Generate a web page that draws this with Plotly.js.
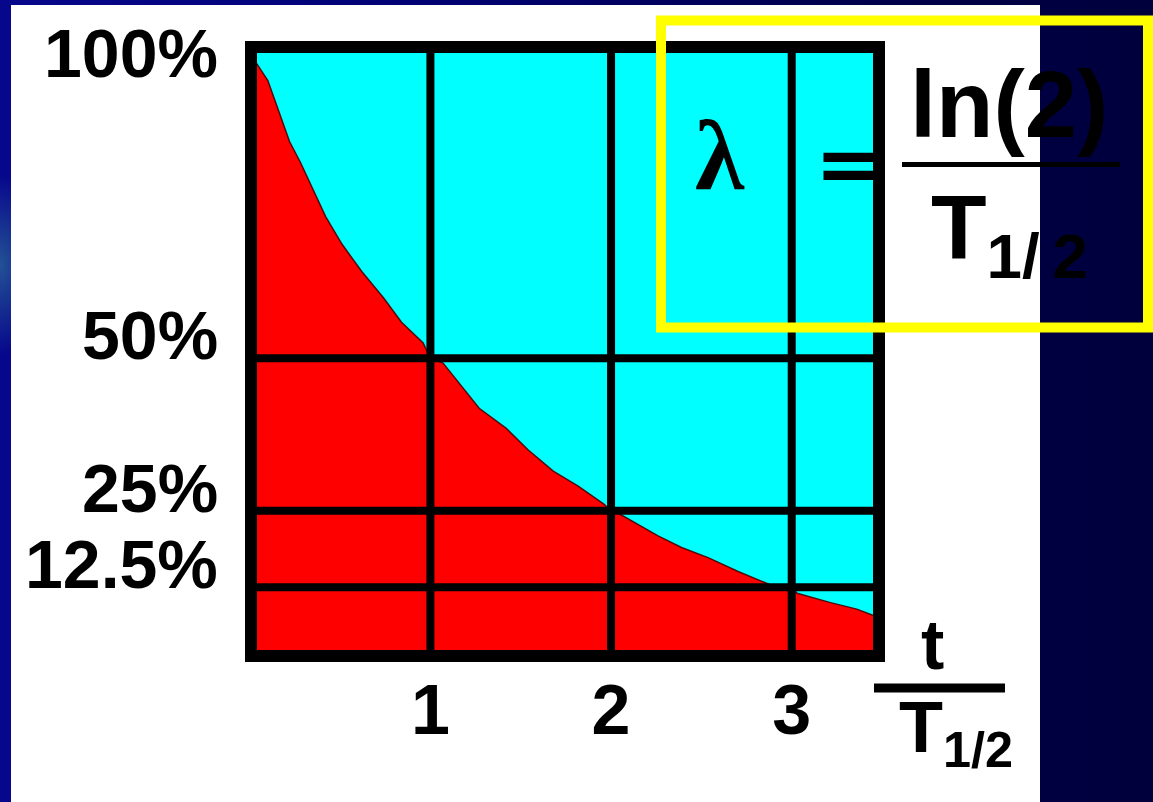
<!DOCTYPE html>
<html>
<head>
<meta charset="utf-8">
<script src="https://cdn.plot.ly/plotly-3.0.1.min.js"></script>
<style>
  html, body { margin: 0; padding: 0; }
  body {
    width: 1153px; height: 802px; overflow: hidden; position: relative;
    background:
      radial-gradient(ellipse 45px 90px at 0px 265px, rgba(40,95,150,0.85) 0%, rgba(40,95,150,0) 100%),
      linear-gradient(to right, #07078c 0%, #000070 40%, #00004a 75%, #00003c 100%);
  }
  #panel { position: absolute; left: 11px; top: 5px; width: 1029px; height: 797px; background: #ffffff; }
  #chart { position: absolute; left: 0; top: 0; width: 1153px; height: 802px; }
</style>
</head>
<body>
<div id="panel"></div>
<div id="chart"></div>
<script>
// Elapsed time in half-lives, and the fraction of nuclei still present (%)
const halfLives = [0, 0.10, 0.16, 0.22, 0.28, 0.36, 0.42, 0.51, 0.62, 0.74, 0.84, 0.96, 1.00,
                   1.07, 1.17, 1.27, 1.42, 1.54, 1.68, 1.82, 1.96, 2.00, 2.04, 2.15, 2.26,
                   2.39, 2.54, 2.70, 2.88, 3.00, 3.03, 3.21, 3.36, 3.45];
const remaining = [100, 95.5, 90.5, 85.5, 82.1, 77.1, 73.2, 68.7, 64.2, 59.9, 55.9, 52.5, 50,
                   49.2, 45.5, 41.8, 38.5, 35.0, 31.5, 29.0, 26.1, 25, 24.6, 22.8, 20.9,
                   19.0, 17.3, 15.1, 12.9, 12.5, 11.5, 10.0, 8.9, 7.9];

// Grid marks
const xTicks = [1, 2, 3];
const xTickText = ['1', '2', '3'];
const yTicks = [100, 50, 25, 12.5];
const yTickText = ['100%', '50%', '25%', '12.5%'];

// Plot area in page pixels
const M = { l: 257, r: 280, t: 53, b: 152 };
const W = 1153, H = 802;
const PW = W - M.l - M.r, PH = H - M.t - M.b;
const px = v => (v - M.l) / PW;          // page x -> paper x
const py = v => (H - M.b - v) / PH;      // page y -> paper y

const X_RANGE = [0.04, 3.45];
const Y_RANGE = [2.2, 100];

const SANS = 'Liberation Sans, Arial, sans-serif';
const SERIF = 'Liberation Serif, Times New Roman, serif';

const decay = {
  type: 'scatter', mode: 'lines',
  x: halfLives, y: remaining,
  fill: 'tozeroy', fillcolor: '#ff0000',
  line: { color: 'rgba(70,0,0,0.9)', width: 1.5 },
  hoverinfo: 'skip', showlegend: false
};

const shapes = [];
xTicks.forEach(v => shapes.push({
  type: 'line', xref: 'x', yref: 'paper', x0: v, x1: v, y0: 0, y1: 1,
  line: { color: '#000000', width: 8 }
}));
yTicks.filter(v => v < Y_RANGE[1]).forEach(v => shapes.push({
  type: 'line', xref: 'paper', yref: 'y', x0: 0, x1: 1, y0: v, y1: v,
  line: { color: '#000000', width: 8 }
}));
// fraction bar under t
shapes.push({ type: 'line', xref: 'paper', yref: 'paper',
  x0: px(874), x1: px(1005), y0: py(688), y1: py(688),
  line: { color: '#000000', width: 9 } });
// formula box
shapes.push({ type: 'rect', xref: 'paper', yref: 'paper',
  x0: px(661), x1: px(1148), y0: py(327.5), y1: py(20.5),
  line: { color: '#ffff00', width: 10 }, fillcolor: 'rgba(0,0,0,0)' });
// fraction bar of the formula
shapes.push({ type: 'line', xref: 'paper', yref: 'paper',
  x0: px(902), x1: px(1120), y0: py(164.5), y1: py(164.5),
  line: { color: '#000000', width: 5 } });

const annotations = [];
yTicks.forEach((v, i) => annotations.push({
  xref: 'paper', yref: 'y', x: 0, y: v, xanchor: 'right', yanchor: 'middle',
  xshift: -37, yshift: v >= Y_RANGE[1] ? 0 : 23,
  text: yTickText[i], showarrow: false,
  font: { family: SANS, size: 68, color: '#000000', weight: 700 }
}));
// axis label t / T1/2
annotations.push({
  xref: 'paper', yref: 'paper', x: px(932), y: py(604), xanchor: 'center', yanchor: 'top',
  text: 't', showarrow: false,
  font: { family: SANS, size: 70, color: '#000000', weight: 700 }
});
annotations.push({
  xref: 'paper', yref: 'paper', x: px(897), y: py(685), xanchor: 'left', yanchor: 'top',
  text: 'T<sub>1/2</sub>', showarrow: false,
  font: { family: SANS, size: 72, color: '#000000', weight: 700 }
});
// decay constant formula
annotations.push({
  xref: 'paper', yref: 'paper', x: px(720), y: py(98), xanchor: 'center', yanchor: 'top',
  text: 'λ', showarrow: false,
  font: { family: SERIF, size: 100, color: '#000000', weight: 700 }
});
annotations.push({
  xref: 'paper', yref: 'paper', x: px(848), y: py(164), xanchor: 'center', yanchor: 'middle',
  text: '=', showarrow: false,
  font: { family: 'DejaVu Sans, sans-serif', size: 80, color: '#000000', weight: 700 }
});
annotations.push({
  xref: 'paper', yref: 'paper', x: px(1009), y: py(50), xanchor: 'center', yanchor: 'top',
  text: 'ln(2)', showarrow: false,
  font: { family: SANS, size: 94, color: '#000000', weight: 700 }
});
annotations.push({
  xref: 'paper', yref: 'paper', x: px(929), y: py(175), xanchor: 'left', yanchor: 'top',
  text: 'T<sub>1/\u20092</sub>', showarrow: false,
  font: { family: SANS, size: 91, color: '#000000', weight: 700 }
});

const layout = {
  width: W, height: H,
  margin: M,
  paper_bgcolor: 'rgba(0,0,0,0)',
  plot_bgcolor: '#00ffff',
  showlegend: false,
  xaxis: {
    range: X_RANGE, showgrid: false, zeroline: false,
    showline: true, linecolor: '#000000', linewidth: 12, mirror: true,
    tickmode: 'array', tickvals: xTicks, ticktext: xTickText, ticks: '',
    ticklabelstandoff: -12,
    tickfont: { family: SANS, size: 70, color: '#000000', weight: 700 },
    fixedrange: true
  },
  yaxis: {
    range: Y_RANGE, showgrid: false, zeroline: false,
    showline: true, linecolor: '#000000', linewidth: 12, mirror: true,
    showticklabels: false, ticks: '',
    fixedrange: true
  },
  shapes: shapes,
  annotations: annotations
};

Plotly.newPlot('chart', [decay], layout, { staticPlot: true, displayModeBar: false });
</script>
</body>
</html>
